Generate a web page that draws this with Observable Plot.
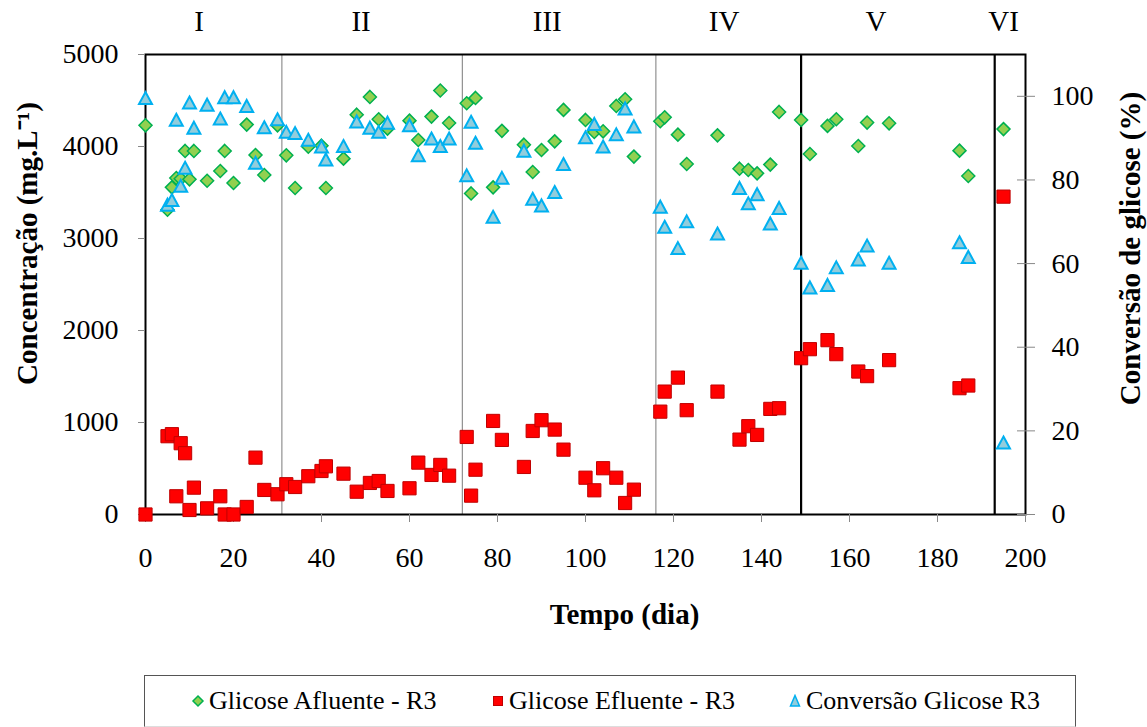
<!DOCTYPE html>
<html>
<head>
<meta charset="utf-8">
<script src="https://cdn.jsdelivr.net/npm/d3@7"></script>
<script src="https://cdn.jsdelivr.net/npm/@observablehq/plot@0.6"></script>
<style>
  body { margin: 0; background: #fff; font-family: 'Liberation Serif'; }
  #wrap { position: relative; width: 1147px; height: 727px; overflow: hidden; background: #fff; }
  #chart { position: absolute; left: 0; top: 0; }
  #chart svg text { font-family: 'Liberation Serif'; }
  #legend { position: absolute; left: 144px; top: 675px; width: 930px; height: 50px;
            border: 1px solid #555; border-bottom-color: #ddd; background: #fff; }
  .item { position: absolute; top: 0; height: 50px; display: flex; align-items: center;
          font-family: 'Liberation Serif'; font-size: 26px; color: #000; white-space: nowrap; }
  .item svg { display: block; margin-right: 4px; }
</style>
</head>
<body>
<div id="wrap">
  <div id="chart"></div>
  <div id="legend"></div>
</div>
<script>
// Sampling days (dia)
const days = [0, 5, 6, 7, 8, 9, 10, 11, 14, 17, 18, 20, 23, 25, 27, 30, 32, 34, 37, 40, 41, 45, 48, 51, 53, 55,
  60, 62, 65, 67, 69, 73, 74, 75, 79, 81, 86, 88, 90, 93, 95, 100, 102, 104, 107, 109, 111,
  117, 118, 121, 123, 130, 135, 137, 139, 142, 144, 149, 151, 155, 157, 162, 164, 169, 185, 187, 195];

// Influent glucose, R3 (mg/L)
const glicoseAfluente = [4230, 3313, 3556, 3658, 3650, 3952, 3643, 3952, 3628, 3734, 3952, 3603, 4238, 3908, 3690, 4230,
  3904, 3549, 3998, 4009, 3549, 3868, 4346, 4539, 4296, 4194, 4281, 4071, 4325, 4608, 4256, 4470, 3490, 4528,
  3556, 4170, 4020, 3723, 3962, 4056, 4398, 4289, 4158, 4165, 4441, 4513, 3890, 4274, 4317, 4129, 3810, 4121,
  3759, 3745, 3708, 3803, 4376, 4289, 3918, 4224, 4296, 4006, 4260, 4252, 3955, 3680, 4189];

// Effluent glucose, R3 (mg/L)
const glicoseEfluente = [0, 851, 873, 198, 775, 666, 49, 292, 67, 198, 0, 0, 82, 618, 267, 220,
  329, 299, 416, 473, 524, 444, 248, 343, 364, 256, 285, 564, 430, 539, 422, 843, 205, 487,
  1017, 811, 517, 908, 1025, 923, 705, 400, 263, 503, 400, 125, 270, 1118, 1336, 1488, 1134, 1336,
  814, 960, 865, 1148, 1155, 1699, 1797, 1895, 1743, 1554, 1504, 1678, 1373, 1402, 3455];

// Glucose conversion, R3 (%)
const conversaoGlicose = [99.6, 74.1, 75.2, 94.4, 78.6, 82.9, 98.5, 92.5, 98.0, 94.7, 99.8, 99.8, 97.7, 84.1, 92.6, 94.5,
  91.5, 91.2, 89.6, 88.0, 84.9, 88.1, 94.0, 92.5, 91.5, 93.7, 93.1, 85.9, 89.9, 88.1, 89.9, 81.1, 93.9, 88.9,
  71.2, 80.5, 87.0, 75.5, 73.9, 77.1, 83.8, 90.2, 93.4, 88.0, 90.9, 97.1, 92.8, 73.6, 68.8, 63.7, 70.1, 67.2,
  78.1, 74.4, 76.6, 69.6, 73.3, 60.2, 54.3, 54.9, 59.1, 61.0, 64.3, 60.2, 65.1, 61.6, 17.2];

// Axis ticks
const xTicks = [0, 20, 40, 60, 80, 100, 120, 140, 160, 180, 200];
const concTicks = [0, 1000, 2000, 3000, 4000, 5000];
const convTicks = [0, 20, 40, 60, 80, 100];

// Operating phases: label names, the day each label sits over, and the phase boundaries
const phaseNames = ["I", "II", "III", "IV", "V", "VI"];
const phaseLabelDay = [12.2, 49, 91.3, 131.5, 166, 195];
const minorBoundaries = [31, 72, 116];
const majorBoundaries = [149, 193];

// Axis extents: left (concentration) and right (conversion) share the plot height
const concMax = 5000;
const convMax = 110;
const convToConc = c => c * concMax / convMax;

const rows = days.map((d, i) => ({
  dia: d,
  afluente: glicoseAfluente[i],
  efluente: glicoseEfluente[i],
  conversao: conversaoGlicose[i]
}));

// Marker shapes, sized by r (half-width)
const radius = size => Math.sqrt(size / Math.PI);
const diamond = { draw(ctx, size) { const r = radius(size);
  ctx.moveTo(0, -r); ctx.lineTo(r, 0); ctx.lineTo(0, r); ctx.lineTo(-r, 0); ctx.closePath(); } };
const square = { draw(ctx, size) { const r = radius(size);
  ctx.moveTo(-r, -r); ctx.lineTo(r, -r); ctx.lineTo(r, r); ctx.lineTo(-r, r); ctx.closePath(); } };
const triangle = { draw(ctx, size) { const r = radius(size);
  ctx.moveTo(0, -r); ctx.lineTo(r * 1.08, r); ctx.lineTo(-r * 1.08, r); ctx.closePath(); } };

const serif = "Liberation Serif";
const green = { fill: "#92D050", stroke: "#00B050", strokeWidth: 1.5 };
const red = { fill: "#FF0000", stroke: "#C00000", strokeWidth: 1 };
const blue = { fill: "#92CDDC", stroke: "#00B0F0", strokeWidth: 2 };
const tickText = { fill: "black", fontSize: 28, fontFamily: serif, label: null };
const titleText = { textAnchor: "middle", lineAnchor: "middle", fontSize: 29, fontWeight: "bold",
  fontFamily: serif, fill: "black" };

const chart = Plot.plot({
  width: 1147,
  height: 668,
  marginLeft: 145,
  marginRight: 122,
  marginTop: 54,
  marginBottom: 154,
  style: { fontFamily: serif, background: "white", color: "black", overflow: "visible" },
  x: { domain: [0, 200], axis: null },
  y: { domain: [0, concMax], axis: null },
  marks: [
    Plot.ruleX(minorBoundaries, { stroke: "#7a7a7a", strokeWidth: 1 }),
    Plot.ruleX(majorBoundaries, { stroke: "black", strokeWidth: 2.2 }),
    Plot.frame({ stroke: "black", strokeWidth: 2 }),

    Plot.axisX(xTicks, { anchor: "bottom", tickSize: 8, tickPadding: 25, stroke: "#888",
      tickFormat: d => String(d), ...tickText }),
    Plot.axisY(concTicks, { anchor: "left", tickSize: 7, tickPadding: 20, stroke: "#888",
      tickFormat: d => String(d), ...tickText }),
    Plot.axisY(convTicks.map(convToConc), { anchor: "right", tickSize: 18, dx: -9, stroke: "#888",
      fill: "none", label: null }),
    Plot.axisY(convTicks.map(convToConc), { anchor: "right", tickSize: 0, tickPadding: 26,
      tickFormat: v => String(Math.round(v * convMax / concMax)), ...tickText }),

    Plot.dot(rows, { x: "dia", y: "afluente", symbol: diamond, r: 6.5, ...green }),
    Plot.dot(rows, { x: "dia", y: "efluente", symbol: square, r: 6.6, ...red }),
    Plot.dot(rows, { x: "dia", y: d => convToConc(d.conversao), symbol: triangle, r: 6, ...blue }),

    Plot.text(phaseNames, { x: (d, i) => phaseLabelDay[i], frameAnchor: "top", dy: -33,
      lineAnchor: "middle", textAnchor: "middle", fontSize: 29, fontFamily: serif, fill: "black" }),

    Plot.text(["Concentração (mg.L\u207B\u00B9)"], { frameAnchor: "left", dx: -118, dy: -41, rotate: -90,
      ...titleText }),
    Plot.text(["Conversão de glicose (%)"], { frameAnchor: "right", dx: 105, dy: -36, rotate: -90,
      ...titleText }),
    Plot.text(["Tempo (dia)"], { frameAnchor: "bottom", dx: 39, dy: 100, ...titleText })
  ]
});
document.getElementById("chart").appendChild(chart);

// Legend below the chart
const legendItems = [
  { label: "Glicose Afluente - R3", style: green, shape: "diamond", left: 46 },
  { label: "Glicose Efluente - R3", style: red, shape: "square", left: 346 },
  { label: "Conversão Glicose R3", style: blue, shape: "triangle", left: 643 }
];
const shapes = {
  diamond: '<polygon points="7,2 12,7 7,12 2,7"/>',
  square: '<rect x="2.5" y="2.5" width="9" height="9"/>',
  triangle: '<polygon points="7,1.5 11.5,12 2.5,12"/>'
};
const legend = document.getElementById("legend");
for (const it of legendItems) {
  const div = document.createElement("div");
  div.className = "item";
  div.style.left = it.left + "px";
  div.innerHTML = `<svg width="14" height="14" viewBox="0 0 14 14"><g fill="${it.style.fill}" stroke="${it.style.stroke}" stroke-width="${Math.min(it.style.strokeWidth, 1.5)}">${shapes[it.shape]}</g></svg><span>${it.label}</span>`;
  legend.appendChild(div);
}
</script>
</body>
</html>
